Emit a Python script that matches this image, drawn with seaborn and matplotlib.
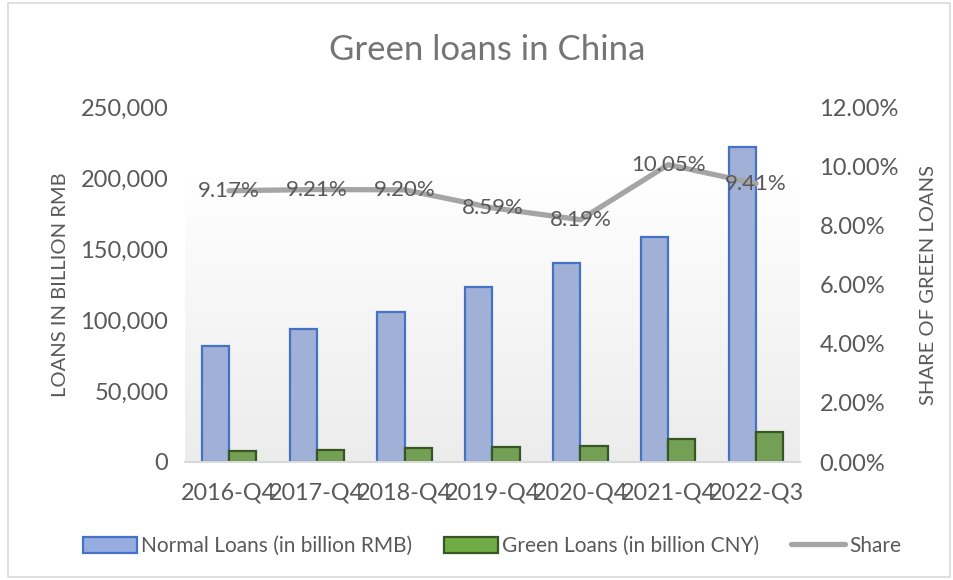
import numpy as np
import pandas as pd
import matplotlib
matplotlib.use("Agg")
import matplotlib.pyplot as plt
from matplotlib.patches import Rectangle, Patch
from matplotlib.lines import Line2D
from matplotlib.ticker import FuncFormatter
import seaborn as sns

# data
periods = ["2016-Q4", "2017-Q4", "2018-Q4", "2019-Q4", "2020-Q4", "2021-Q4", "2022-Q3"]
normal_loans = [81800, 93400, 105300, 123400, 140400, 158200, 222100]
green_loans = [7500, 8600, 9700, 10600, 11500, 15900, 20900]
share = [9.17, 9.21, 9.20, 8.59, 8.19, 10.05, 9.41]
share_labels = ["9.17%", "9.21%", "9.20%", "8.59%", "8.19%", "10.05%", "9.41%"]

sns.set_style("white")
plt.rcParams["font.family"] = ["Lato", "DejaVu Sans"]
txt = "#595959"

df = pd.DataFrame({
    "period": periods * 2,
    "value": normal_loans + green_loans,
    "series": ["Normal Loans (in billion RMB)"] * 7 + ["Green Loans (in billion CNY)"] * 7,
})

fig = plt.figure(figsize=(9.54, 5.8), dpi=100)
ax = fig.add_axes([185 / 954, 1 - 462 / 580, 615 / 954, 355 / 580])

# gradient plot-area background
grad = np.linspace(0, 1, 256).reshape(-1, 1)
ax.imshow(grad, cmap=matplotlib.colors.LinearSegmentedColormap.from_list(
    "bg", ["#ffffff", "#ececec"]), extent=[-0.5, 6.5, 0, 203000],
    aspect="auto", zorder=0, origin="upper")

sns.barplot(data=df, x="period", y="value", hue="series", ax=ax,
            palette=["#97ace0", "#70ad47"], width=0.62, gap=0,
            legend=False, zorder=2)
edges = ["#4472c4"] * 7 + ["#375623"] * 7
for p, ec in zip(ax.patches, edges):
    p.set_edgecolor(ec)
    p.set_linewidth(1.6)

ax.set_xlim(-0.5, 6.5)
ax.set_ylim(0, 250000)
ax.set_yticks(range(0, 250001, 50000))
ax.yaxis.set_major_formatter(FuncFormatter(lambda v, _: f"{int(v):,}"))
ax.set_xlabel("")
ax.set_ylabel("LOANS IN BILLION RMB", fontsize=14.5, color=txt, labelpad=8)
ax.tick_params(axis="y", labelsize=17, colors=txt, length=0, pad=12)
ax.tick_params(axis="x", labelsize=16.8, colors=txt, length=0, pad=15)
for s in ["top", "right", "left"]:
    ax.spines[s].set_visible(False)
ax.spines["bottom"].set_color("#d9d9d9")
ax.spines["bottom"].set_linewidth(1.5)

ax2 = ax.twinx()
ax2.plot(range(7), share, color="#a5a5a5", linewidth=3.8, zorder=3)
for i, (v, lab) in enumerate(zip(share, share_labels)):
    ax2.text(i, v, lab, ha="center", va="center", fontsize=16, color=txt, zorder=4)
ax2.set_ylim(0, 12)
ax2.set_yticks(range(0, 13, 2))
ax2.yaxis.set_major_formatter(FuncFormatter(lambda v, _: f"{v:.2f}%"))
ax2.set_ylabel("SHARE OF GREEN LOANS", fontsize=14.5, color=txt, labelpad=15)
ax2.tick_params(axis="y", labelsize=17, colors=txt, length=0, pad=14)
for s in ax2.spines.values():
    s.set_visible(False)

fig.text(487 / 954, 1 - 50 / 580, "Green loans in China", ha="center", va="center",
         fontsize=25, color="#757575")

handles = [
    Patch(facecolor="#97ace0", edgecolor="#4472c4", linewidth=1.6,
          label="Normal Loans (in billion RMB)"),
    Patch(facecolor="#70ad47", edgecolor="#375623", linewidth=1.6,
          label="Green Loans (in billion CNY)"),
    Line2D([0], [0], color="#a5a5a5", linewidth=3.8, label="Share"),
]
fig.legend(handles=handles, loc="center", bbox_to_anchor=(492 / 954, 1 - 546 / 580),
           ncol=3, frameon=False, fontsize=15, labelcolor=txt,
           handlelength=2.6, handleheight=0.8, handletextpad=0.2,
           columnspacing=1.5)

fig.patches.append(Rectangle((8 / 954, 0.005), 942 / 954, 0.99,
                             transform=fig.transFigure, fill=False,
                             edgecolor="#d9d9d9", linewidth=1.2))

fig.savefig("out.png", dpi=100)
